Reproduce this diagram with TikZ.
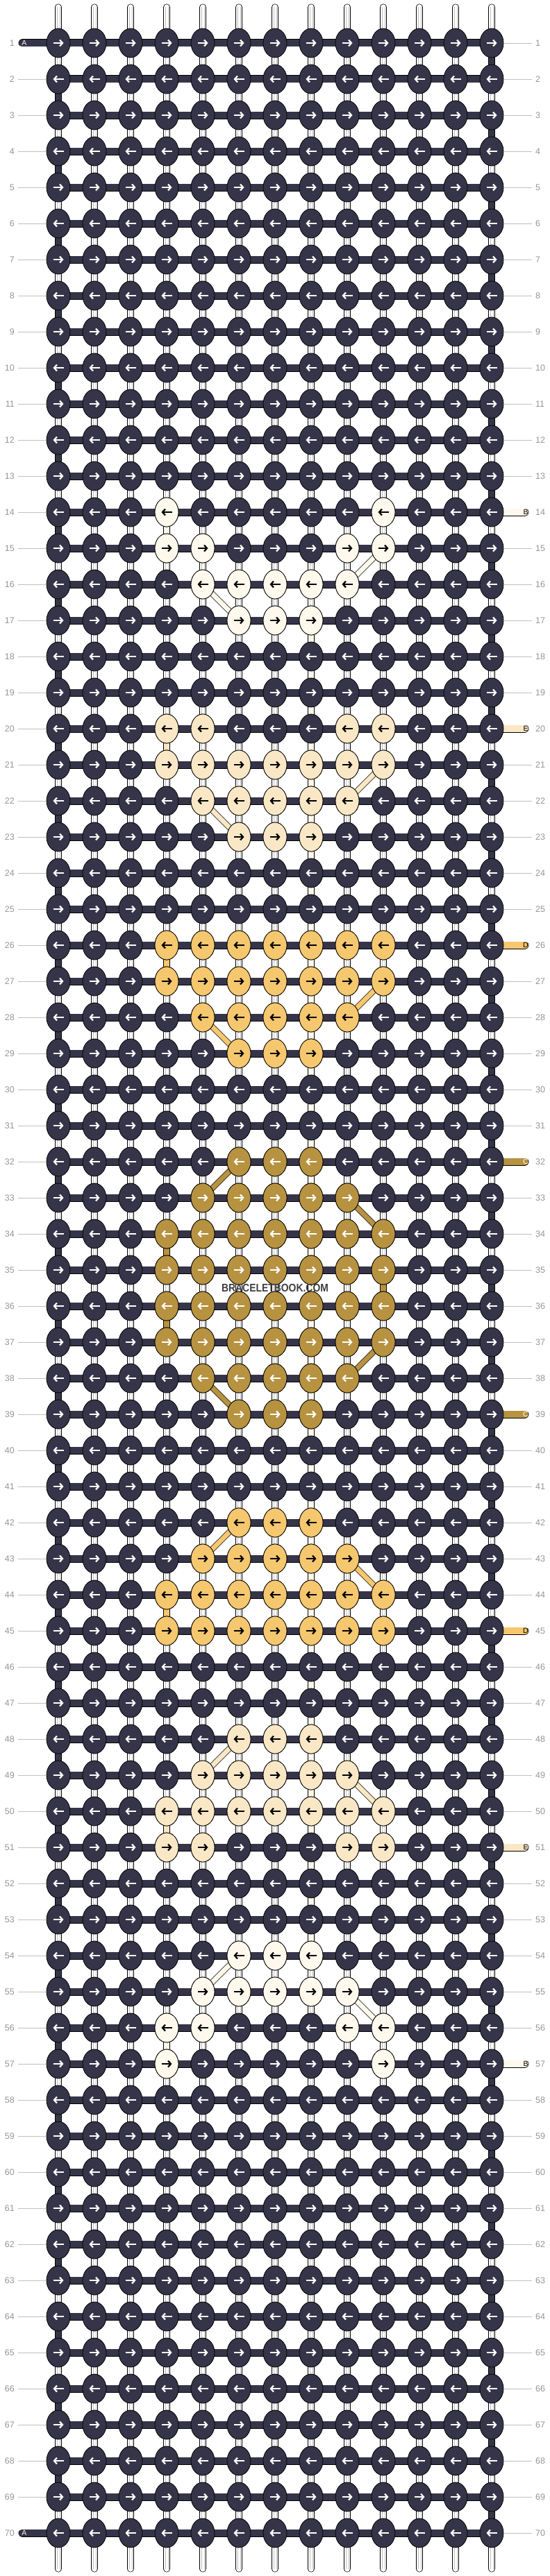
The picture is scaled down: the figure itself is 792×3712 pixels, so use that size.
\documentclass[tikz,border=0pt]{standalone}
\usepackage{fontspec}
\setmainfont{Liberation Sans}
\usetikzlibrary{shapes.geometric,arrows.meta}

\definecolor{colA}{RGB}{54,52,72}
\definecolor{colB}{RGB}{255,249,237}
\definecolor{colC}{RGB}{183,146,64}
\definecolor{colD}{RGB}{245,199,110}
\definecolor{colE}{RGB}{249,231,198}
\definecolor{lblgray}{RGB}{150,150,150}
\definecolor{linegray}{RGB}{192,192,192}

\tikzset{
  knot/.style={ellipse,draw=black,line width=0.8pt,minimum width=34pt,minimum height=42pt,inner sep=0pt},
  strand/.style={double=#1,double distance=8.6pt,line width=0.7pt},
  bar/.style={double=#1,double distance=9.6pt,line width=0.7pt},
  band/.style={double=#1,double distance=7pt,line width=0.6pt},
  tube/.style={double=white,double distance=8.6pt,line width=0.7pt,line cap=round},
  kar/.style={line width=2.2pt,-{Straight Barb[length=4pt,width=9pt]}},
  num/.style={text=lblgray,inner sep=0pt,font=\fontsize{12.5}{14}\selectfont},
  tick/.style={linegray,line width=0.9pt},
  stubtxt/.style={inner sep=0pt,font=\fontsize{10.5}{12}\selectfont}
}

% 結び目 (行, 列, 色, 矢印の色)
\newcommand\knotat[4]{%
  \node[knot,fill=#3] (k#1-#2) at (p#1-#2) {};
  \ifodd#1 \draw[kar,#4] ([xshift=-7.5pt]k#1-#2.center) -- ([xshift=7.5pt]k#1-#2.center);
  \else \draw[kar,#4] ([xshift=7.5pt]k#1-#2.center) -- ([xshift=-7.5pt]k#1-#2.center);
  \fi}

\begin{document}
\begin{tikzpicture}[x=1pt,y=-1pt]
  \path[use as bounding box,fill=white] (0,0) rectangle (792,3712);

  \foreach \r in {1,...,70}{
    \foreach \c in {1,...,13}{
      \coordinate (p\r-\c) at ({84+(\c-1)*52},{62+(\r-1)*52});
    }
  }

  % 縦糸
  \foreach \c in {1,...,13}{
    \coordinate (top\c) at ({84+(\c-1)*52},10.5);
    \coordinate (bot\c) at ({84+(\c-1)*52},3701.5);
    \draw[tube] (top\c) -- (bot\c);
    \draw[linegray,line width=0.6pt] ([xshift=-1.8pt]top\c) -- ([xshift=-1.8pt]bot\c);
    \draw[linegray,line width=0.6pt] ([xshift=1.8pt]top\c) -- ([xshift=1.8pt]bot\c);
  }
  \foreach \r [evaluate=\r as \n using int(\r+1)] in {2,4,...,68} \draw[strand=colA] (p\r-1) -- (p\n-1);
  \foreach \r [evaluate=\r as \n using int(\r+1)] in {1,3,...,69} \draw[strand=colA] (p\r-13) -- (p\n-13);
  \foreach \r [evaluate=\r as \n using int(\r+1)] in {17,...,53} \draw[strand=colB] (p\r-8) -- (p\n-8);
  \foreach \r/\c/\col [evaluate=\r as \n using int(\r+1)] in {14/4/colB,20/4/colE,26/4/colD,34/4/colC,35/10/colC,36/4/colC,44/4/colD,50/4/colE,56/4/colB}
    \draw[strand=\col] (p\r-\c) -- (p\n-\c);

  % 横糸
  \foreach \r in {1,...,70} \draw[bar=colA] (p\r-1) -- (p\r-13);
  \foreach \r in {1,70}{
    \coordinate (a\r) at (32,{62+(\r-1)*52});
    \draw[bar=colA,line cap=round] (a\r) -- (p\r-1);
    \node[stubtxt,text=white] (at\r) at ([xshift=3pt]a\r) {A};
  }
  \foreach \r/\col/\lt/\tc in {14/colB/B/black,20/colE/E/black,26/colD/D/black,32/colC/C/white,39/colC/C/white,45/colD/D/black,51/colE/E/black,57/colB/B/black}{
    \coordinate (s\r) at (756,{62+(\r-1)*52});
    \draw[bar=\col,line cap=round] (p\r-13) -- (s\r);
    \node[stubtxt,text=\tc] (st\r) at ([xshift=1pt]s\r) {\lt};
  }

  % 斜めの糸
  \foreach \ra/\ca/\rb/\cb/\col in {15/10/16/9/colB,16/5/17/6/colB,21/10/22/9/colE,22/5/23/6/colE,
      27/10/28/9/colD,28/5/29/6/colD,32/6/33/5/colC,33/9/34/10/colC,37/10/38/9/colC,38/5/39/6/colC,
      42/6/43/5/colD,43/9/44/10/colD,48/6/49/5/colE,49/9/50/10/colE,54/6/55/5/colB,55/9/56/10/colB}
    \draw[band=\col] (p\ra-\ca) -- (p\rb-\cb);

  % 結び目
  \foreach \r in {1,...,70}{
    \foreach \c in {1,...,13}{\knotat{\r}{\c}{colA}{white}}
  }
  \foreach \r/\cl/\col/\ac in {14/{4,10}/colB/black,15/{4,5,9,10}/colB/black,16/{5,...,9}/colB/black,17/{6,7,8}/colB/black,
      20/{4,5,9,10}/colE/black,21/{4,...,10}/colE/black,22/{5,...,9}/colE/black,23/{6,7,8}/colE/black,
      26/{4,...,10}/colD/black,27/{4,...,10}/colD/black,28/{5,...,9}/colD/black,29/{6,7,8}/colD/black,
      32/{6,7,8}/colC/white,33/{5,...,9}/colC/white,34/{4,...,10}/colC/white,35/{4,...,10}/colC/white,
      36/{4,...,10}/colC/white,37/{4,...,10}/colC/white,38/{5,...,9}/colC/white,39/{6,7,8}/colC/white,
      42/{6,7,8}/colD/black,43/{5,...,9}/colD/black,44/{4,...,10}/colD/black,45/{4,...,10}/colD/black,
      48/{6,7,8}/colE/black,49/{5,...,9}/colE/black,50/{4,...,10}/colE/black,51/{4,5,9,10}/colE/black,
      54/{6,7,8}/colB/black,55/{5,...,9}/colB/black,56/{4,5,9,10}/colB/black,57/{4,10}/colB/black}{
    \foreach \c in \cl {\knotat{\r}{\c}{\col}{\ac}}
  }

  % 行番号
  \foreach \r in {1,...,70}{
    \node[num,anchor=east] (nl\r) at (21,{62+(\r-1)*52}) {\r};
    \node[num,anchor=west] (nr\r) at (771,{62+(\r-1)*52}) {\r};
  }
  \foreach \r in {2,...,69} \draw[tick] ([xshift=5pt]nl\r.east) -- (k\r-1.west);
  \foreach \r in {1,...,13,15,16,...,19,21,22,...,25,27,28,...,31,33,34,...,38,40,41,...,44,46,47,...,50,52,53,...,56,58,59,...,70}
    \draw[tick] (k\r-13.east) -- ([xshift=-5pt]nr\r.west);

  \node[text={rgb,255:red,62;green,62;blue,66},xscale=0.87,font=\bfseries\fontsize{16}{16}\selectfont] (wmark) at (396,1856) {BRACELETBOOK.COM};
\end{tikzpicture}
\end{document}
